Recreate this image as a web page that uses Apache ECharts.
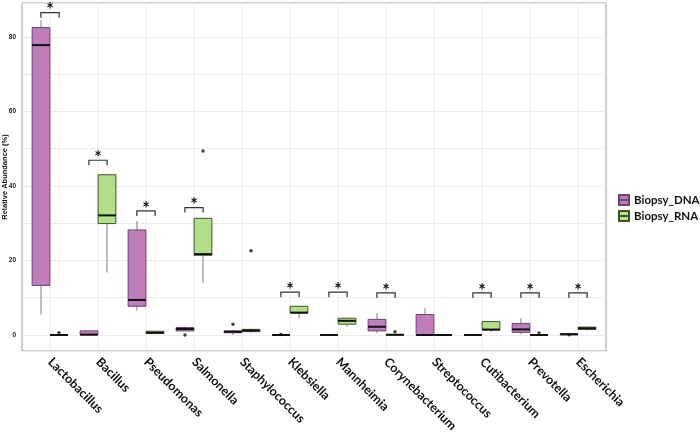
<!DOCTYPE html>
<html>
<head>
<meta charset="utf-8">
<script src="https://cdn.jsdelivr.net/npm/echarts@6/dist/echarts.min.js"></script>
<style>html,body{margin:0;padding:0;background:#fff}#c{width:700px;height:435px}</style>
</head>
<body>
<div id="c"></div>
<script>
// ---- data ----
const categories = ['Lactobacillus','Bacillus','Pseudomonas','Salmonella','Staphylococcus','Klebsiella','Mannheimia','Corynebacterium','Streptococcus','Cutibacterium','Prevotella','Escherichia'];
// [low whisker, Q1, median, Q3, high whisker]
const dnaStats = [
  [5.5, 13.3, 77.8, 82.5, 84.5],
  [0, 0, 0.1, 1.1, 1.2],
  [6.5, 7.7, 9.4, 28.2, 30.6],
  [1.0, 1.1, 1.6, 2.0, 2.3],
  [0, 0.6, 0.85, 1.1, 1.3],
  [0, 0, 0, 0, 0],
  [0, 0, 0, 0, 0],
  [0.45, 1.1, 2.2, 4.2, 5.8],
  [0, 0, 0, 5.5, 7.2],
  [0, 0, 0, 0, 0],
  [0.1, 0.7, 1.5, 3.1, 4.5],
  [0, 0.05, 0.2, 0.35, 0.5]
];
const rnaStats = [
  [0, 0, 0, 0, 0],
  [16.8, 29.9, 32.1, 43.0, 43.2],
  [0.3, 0.4, 0.6, 1.0, 1.1],
  [14.0, 21.4, 21.7, 31.3, 31.3],
  [0.6, 0.9, 1.2, 1.5, 1.7],
  [4.5, 5.9, 6.0, 7.7, 7.8],
  [2.2, 2.9, 3.8, 4.5, 4.6],
  [0, 0, 0.05, 0.15, 0.3],
  [0, 0, 0, 0, 0],
  [0.8, 1.35, 1.45, 3.6, 3.7],
  [0, 0, 0, 0, 0],
  [1.2, 1.5, 1.8, 2.1, 2.3]
];
const dnaOutliers = [[3, 0], [4, 2.9], [5, 0.1], [11, 0.05]];
const rnaOutliers = [[0, 0.6], [3, 49.4], [4, 22.6], [7, 0.9], [10, 0.5]];
const sigBrackets = [[0, 86.5], [1, 46.9], [2, 33.3], [3, 34.2], [5, 11.5], [6, 11.5], [7, 11.3], [9, 11.3], [10, 11.3], [11, 11.3]];
const yTicks = [0, 20, 40, 60, 80];
const seriesNames = ['Biopsy_DNA', 'Biopsy_RNA'];

// ---- styles ----
const DNA_FILL = '#C07CBF', DNA_BORDER = '#6B476B';
const RNA_FILL = '#B3DF87', RNA_BORDER = '#3E5630';
const Y_MIN = -4.3, Y_MAX = 89.1;

function boxRenderer(fill, border, sign) {
  return function (params, api) {
    const i = api.value(0);
    const band = api.size([1, 0])[0];
    const off = sign * band * 0.1875;
    const w = band * 0.37;
    const cx = api.coord([i, 0])[0] + off;
    const yLow = api.coord([i, api.value(1)])[1];
    const yQ1 = api.coord([i, api.value(2)])[1];
    const yMed = api.coord([i, api.value(3)])[1];
    const yQ3 = api.coord([i, api.value(4)])[1];
    const yHigh = api.coord([i, api.value(5)])[1];
    const wh = {stroke: '#9a9a9a', lineWidth: 1.3};
    return {
      type: 'group',
      children: [
        {type: 'line', shape: {x1: cx, y1: yQ1, x2: cx, y2: yLow}, style: wh},
        {type: 'line', shape: {x1: cx, y1: yQ3, x2: cx, y2: yHigh}, style: wh},
        {type: 'rect', shape: {x: cx - w / 2, y: yQ3, width: w, height: Math.max(yQ1 - yQ3, 0)},
          style: {fill: fill, stroke: border, lineWidth: 1}},
        {type: 'line', shape: {x1: cx - w / 2, y1: yMed, x2: cx + w / 2, y2: yMed},
          style: {stroke: '#111', lineWidth: 2}}
      ]
    };
  };
}

function gridLineRenderer(params, api) {
  const cs = params.coordSys;
  const x = api.coord([api.value(0), 0])[0];
  return {type: 'line', shape: {x1: x, y1: cs.y, x2: x, y2: cs.y + cs.height},
    style: {stroke: '#ebebeb', lineWidth: 1}};
}

function bracketRenderer(params, api) {
  const i = api.value(0);
  const band = api.size([1, 0])[0];
  const p = api.coord([i, api.value(1)]);
  const dx = band * 0.19;
  const leg = 5;
  return {
    type: 'group',
    children: [
      {type: 'polyline', shape: {points: [[p[0] - dx, p[1] + leg], [p[0] - dx, p[1]], [p[0] + dx, p[1]], [p[0] + dx, p[1] + leg]]},
        style: {stroke: '#333', lineWidth: 1.2, fill: null}},
      {type: 'text', x: p[0], y: p[1] - 2,
        style: {text: '*', fill: '#111', font: 'bold 18px Lato, sans-serif', align: 'center', verticalAlign: 'middle'}}
    ]
  };
}

const chart = echarts.init(document.getElementById('c'), null, {renderer: 'canvas'});
chart.setOption({
  animation: false,
  backgroundColor: '#fff',
  legend: {
    orient: 'vertical', left: 613, top: 189,
    itemWidth: 10, itemHeight: 10, itemGap: 4,
    icon: 'path://M0,0L10,0L10,10L0,10Z M0,5L10,5',
    data: seriesNames,
    textStyle: {fontFamily: 'Lato', fontWeight: 'bold', fontSize: 11.5, color: '#111'}
  },
  grid: [
    {left: 22, right: 94, top: 3, bottom: 84, containLabel: false, outerBoundsMode: 'none',
      show: true, borderColor: '#9a9a9a', borderWidth: 1, backgroundColor: 'transparent'},
    {left: 26, right: 98, top: 3, bottom: 84, containLabel: false, outerBoundsMode: 'none'}
  ],
  xAxis: [
    {type: 'value', gridIndex: 0, min: 0, max: 1, show: false},
    {type: 'category', gridIndex: 1, data: categories, boundaryGap: true,
      axisLine: {show: false}, axisTick: {show: false}, splitLine: {show: false},
      axisLabel: {interval: 0, rotate: -45, margin: 9, fontFamily: 'Lato', fontWeight: 'bold', fontSize: 12.5, color: '#111'}}
  ],
  yAxis: [
    {type: 'value', gridIndex: 0, min: Y_MIN, max: Y_MAX, splitNumber: 9, position: 'left',
      name: 'Relative Abundance (%)', nameLocation: 'middle', nameGap: 13, nameMoveOverlap: false,
      nameTextStyle: {fontFamily: 'Liberation Sans', fontWeight: 'bold', fontSize: 7.5, color: '#111'},
      axisLine: {show: false, onZero: false}, axisTick: {show: false},
      axisLabel: {margin: 6, align: 'right', fontFamily: 'Liberation Sans', fontWeight: 'bold', fontSize: 6.5, color: '#222',
        formatter: function (v) { return yTicks.indexOf(Math.round(v * 1000) / 1000) >= 0 ? String(Math.round(v)) : ''; }},
      splitLine: {show: true, lineStyle: {color: '#ebebeb', width: 1}}},
    {type: 'value', gridIndex: 1, min: Y_MIN, max: Y_MAX, show: false, splitLine: {show: false}}
  ],
  series: [
    {type: 'custom', xAxisIndex: 1, yAxisIndex: 1, renderItem: gridLineRenderer, silent: true, z: 1,
      data: categories.map((c, i) => [i]), encode: {x: 0}},
    {name: seriesNames[0], type: 'custom', xAxisIndex: 1, yAxisIndex: 1, z: 2,
      itemStyle: {color: DNA_FILL, borderColor: DNA_BORDER, borderWidth: 1},
      renderItem: boxRenderer(DNA_FILL, DNA_BORDER, -1),
      data: dnaStats.map((s, i) => [i].concat(s)), encode: {x: 0, y: [1, 2, 3, 4, 5]}},
    {name: seriesNames[1], type: 'custom', xAxisIndex: 1, yAxisIndex: 1, z: 2,
      itemStyle: {color: RNA_FILL, borderColor: RNA_BORDER, borderWidth: 1},
      renderItem: boxRenderer(RNA_FILL, RNA_BORDER, 1),
      data: rnaStats.map((s, i) => [i].concat(s)), encode: {x: 0, y: [1, 2, 3, 4, 5]}},
    {type: 'scatter', xAxisIndex: 1, yAxisIndex: 1, symbol: 'circle', symbolSize: 3.5, symbolOffset: [-9, 0],
      itemStyle: {color: '#111'}, data: dnaOutliers, z: 3},
    {type: 'scatter', xAxisIndex: 1, yAxisIndex: 1, symbol: 'circle', symbolSize: 3.5, symbolOffset: [9, 0],
      itemStyle: {color: '#111'}, data: rnaOutliers, z: 3},
    {type: 'custom', xAxisIndex: 1, yAxisIndex: 1, renderItem: bracketRenderer,
      data: sigBrackets, encode: {x: 0, y: 1}, z: 4}
  ]
});
</script>
</body>
</html>
